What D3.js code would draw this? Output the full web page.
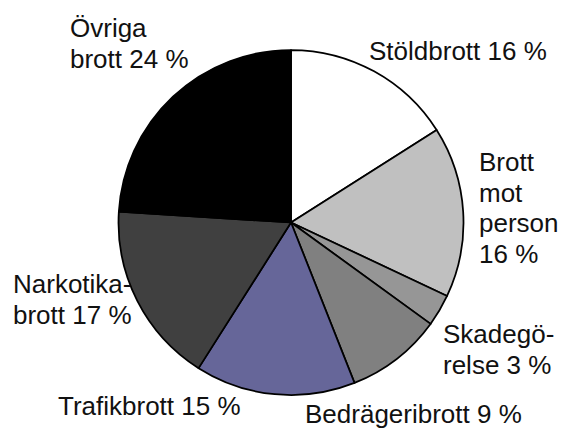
<!DOCTYPE html>
<html>
<head>
<meta charset="utf-8">
<script src="https://cdn.jsdelivr.net/npm/d3@7"></script>
<style>
	html, body { margin: 0; padding: 0; background: #fff; }
	svg { display: block; }
</style>
</head>
<body>
<div id="chart"></div>
<script>
	"use strict";

	// data: share of crimes, percent
	var categories = ["Stöldbrott", "Brott mot person", "Skadegörelse", "Bedrägeribrott",
		"Trafikbrott", "Narkotikabrott", "Övriga brott"];
	var values = [16, 16, 3, 9, 15, 17, 24];
	var colors = ["#ffffff", "#c0c0c0", "#969696", "#808080", "#666699", "#404040", "#000000"];

	// label text, split the way the original breaks lines (value goes on last line)
	var labelLines = [
		["Stöldbrott"],
		["Brott", "mot", "person", ""],
		["Skadegö-", "relse"],
		["Bedrägeribrott"],
		["Trafikbrott"],
		["Narkotika-", "brott"],
		["Övriga", "brott"]
	];

	// label placement: left x and first baseline
	var labelPos = [
		{x: 369, y: 60},
		{x: 479, y: 171},
		{x: 443, y: 343},
		{x: 305, y: 423},
		{x: 58, y: 415},
		{x: 13, y: 293},
		{x: 70, y: 37}
	];

	var width = 563,
		height = 428,
		cx = 291,
		cy = 222.5,
		radius = 172.5,
		fontSize = 26,
		lineHeight = 30.7;

	var data = categories.map(function(c, i) {
		return {name: c, value: values[i], color: colors[i], lines: labelLines[i], pos: labelPos[i]};
	});

	var svg = d3.select("#chart").append("svg")
		.attr("width", width)
		.attr("height", height);

	var pie = d3.pie()
		.sort(null)
		.value(function(d) { return d.value; });

	var arc = d3.arc()
		.innerRadius(0)
		.outerRadius(radius);

	var g = svg.append("g")
		.attr("transform", "translate(" + cx + "," + cy + ")");

	g.selectAll("path.slice")
		.data(pie(data))
		.enter().append("path")
		.attr("class", "slice")
		.attr("d", arc)
		.attr("fill", function(d) { return d.data.color; })
		.attr("stroke", "#000")
		.attr("stroke-width", 1.75)
		.attr("stroke-linejoin", "round");

	// labels
	var labels = svg.selectAll("text.label")
		.data(data)
		.enter().append("text")
		.attr("class", "label")
		.attr("font-family", "'Liberation Sans', Arial, sans-serif")
		.attr("font-size", fontSize)
		.attr("fill", "#111");

	labels.selectAll("tspan")
		.data(function(d) {
			return d.lines.map(function(l, i) {
				var last = i === d.lines.length - 1;
				var txt = last ? (l ? l + " " : "") + d.value + " %" : l;
				return {text: txt, x: d.pos.x, y: d.pos.y + i * lineHeight};
			});
		})
		.enter().append("tspan")
		.attr("x", function(d) { return d.x; })
		.attr("y", function(d) { return d.y; })
		.text(function(d) { return d.text; });
</script>
</body>
</html>
